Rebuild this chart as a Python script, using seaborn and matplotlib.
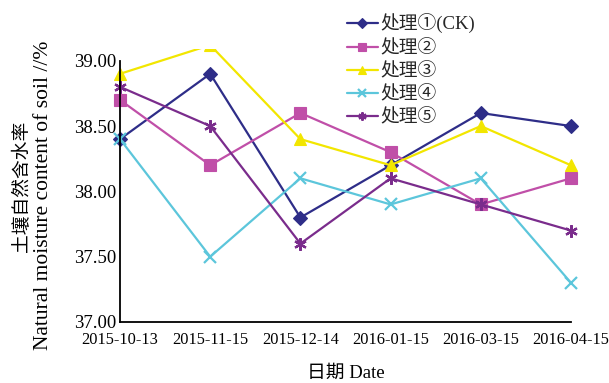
import matplotlib
matplotlib.use("Agg")
import matplotlib.pyplot as plt
import seaborn as sns
import pandas as pd

dates = ["2015-10-13", "2015-11-15", "2015-12-14", "2016-01-15", "2016-03-15", "2016-04-15"]
series_names = ["处理①(CK)", "处理②", "处理③", "处理④", "处理⑤"]
ck = [38.4, 38.9, 37.8, 38.2, 38.6, 38.5]
t2 = [38.7, 38.2, 38.6, 38.3, 37.9, 38.1]
t3 = [38.9, 39.12, 38.4, 38.2, 38.5, 38.2]
t4 = [38.4, 37.5, 38.1, 37.9, 38.1, 37.3]
t5 = [38.8, 38.5, 37.6, 38.1, 37.9, 37.7]
yticks = [37.0, 37.5, 38.0, 38.5, 39.0]

colors = ["#2E2D88", "#C04FA8", "#F2E600", "#5CC6DB", "#7A2C8C"]
markers = ["D", "s", "^", "x", (6, 2, 0)]
msizes = [7.5, 8, 9, 9, 9]

sns.set_theme(style="white")
plt.rcParams["font.family"] = ["Liberation Serif", "Noto Sans CJK SC", "DejaVu Sans"]

rows = []
for name, vals in zip(series_names, [ck, t2, t3, t4, t5]):
    for i, v in enumerate(vals):
        rows.append({"pos": i, "date": dates[i], "value": v, "series": name})
df = pd.DataFrame(rows)

fig = plt.figure(figsize=(6.09, 3.83), dpi=100)
ax = fig.add_axes([106.5 / 609, 1 - 322 / 383, 478 / 609, (322 - 49) / 383])

for name, c, m, ms in zip(series_names, colors, markers, msizes):
    sub = df[df["series"] == name]
    sns.lineplot(data=sub, x="pos", y="value", ax=ax, color=c, marker=m,
                 markersize=ms, linewidth=1.6, markeredgewidth=1.6 if m in ("x", (6, 2, 0)) else 0.8,
                 markeredgecolor=c, label=name)

for s in ["top", "right"]:
    ax.spines[s].set_visible(False)
ax.spines["left"].set_position(("data", 0))
ax.spines["left"].set_bounds(37.0, 39.0)
ax.spines["bottom"].set_bounds(0, 5)
for s in ["left", "bottom"]:
    ax.spines[s].set_color("black")
    ax.spines[s].set_linewidth(1.3)

ax.set_xlim(-0.15, 5.15)
ax.set_ylim(37.0, 39.09)
ax.set_xticks(range(len(dates)))
ax.set_xticklabels(dates)
ax.set_yticks(yticks)
ax.set_yticklabels([f"{v:.2f}" for v in yticks])

ax.tick_params(axis="both", direction="in", length=4, width=1.2, colors="black",
               labelcolor="black")
ax.tick_params(axis="x", pad=7, labelsize=11.8)
ax.tick_params(axis="y", pad=3, labelsize=13.5)

ax.set_xlabel("日期 Date", fontsize=13.5, color="black", va="center")
ax.xaxis.set_label_coords(0.5, (322 - 373) / 273)
ax.set_ylabel("Natural moisture content of soil //%", fontsize=15.5,
              color="black", va="center", ha="center")
ax.yaxis.set_label_coords((44 - 106.5) / 478, (322 - 195) / 273)
fig.text(22 / 609, 1 - 186 / 383, "土壤自然含水率", fontsize=13.5, rotation=90,
         ha="center", va="center", color="black")

ax.get_legend().remove()
handles, labels = ax.get_legend_handles_labels()
fig.legend(handles, labels, loc="upper left", bbox_to_anchor=(347 / 609, 1 - 14 / 383),
           frameon=False, fontsize=13.5, borderpad=0, borderaxespad=0,
           handlelength=1.65, handletextpad=0.12, labelspacing=0.3, markerscale=0.65)

fig.savefig("out.png", dpi=100)
